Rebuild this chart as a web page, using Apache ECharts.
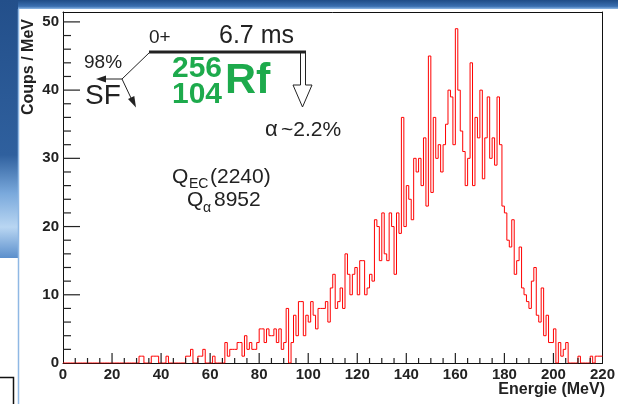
<!DOCTYPE html>
<html><head><meta charset="utf-8">
<script src="https://cdn.jsdelivr.net/npm/echarts@6/dist/echarts.min.js"></script>
<style>html,body{margin:0;padding:0;background:#fff}#c{width:618px;height:404px}</style>
</head><body><div id="c"></div>
<script>
// ---- data ----
const xMin = 0, xMax = 220, xInterval = 20, xMinorStep = 5;
const yMin = 0, yMax = 51.45, yInterval = 10, yMinorStep = 2;
const binWidth = 1; // MeV
// counts per 1 MeV bin, bins 0..219
const counts = [
  0,0,0,0,0,0,0,0,0,0,
  0,0,0,0,0,0,0,0,0,0,
  0,0,0,0,0,0,0,0,0,0,
  0,1,1,0,0,0,1,1,1,0,
  0,0,1,0,0,0,0,0,0,0,
  1,1,2,0,0,1,1,2,0,0,
  0,1,0,0,0,0,3,1,2,2,
  2,3,3,1,4,2,3,2,2,3,
  5,5,3,5,4,4,5,3,5,2,
  3,8,0,3,7,4,9,9,4,7,
  6,9,7,5,8,8,8,9,6,11,
  13,8,9,11,8,16,13,10,13,14,
  10,15,15,10,11,13,12,21,20,15,
  22,16,15,22,20,13,22,19,36,20,
  26,24,21,30,28,30,26,33,23,45,
  25,36,30,32,28,32,35,40,39,32,
  49,40,34,31,26,30,44,26,36,33,
  40,27,33,39,30,33,29,39,32,23,
  22,18,17,21,13,15,17,11,10,9,
  8,12,14,7,6,11,4,7,3,3,
  5,0,3,1,2,3,0,0,0,0,
  1,0,0,0,0,1,0,1,1,1
];
const xTitle = 'Energie (MeV)';
const yTitle = 'Coups / MeV';

// ---- build ----
const histData = counts.map((v, i) => [xMin + i * binWidth, v]);
histData.push([xMin + counts.length * binWidth, counts[counts.length - 1]]);

// tick positions (values), drawn through the axes' scales
const xTickVals = [];
for (let v = xMin + xMinorStep; v < xMax; v += xMinorStep) xTickVals.push([v, yMin]);
const yTickVals = [];
for (let v = yMin + yMinorStep; v < yMax; v += yMinorStep) yTickVals.push([xMin, v]);

const FONT = '"Liberation Sans", Arial, Helvetica, sans-serif';
const INK = '#222';
const GREEN = '#1daa4c';

function txt(x, y, text, size, opts) {
  opts = opts || {};
  return {
    type: 'text', x: x, y: y, z: 50,
    rotation: opts.rotation || 0,
    style: {
      text: text, fontSize: size, fontFamily: FONT,
      fontWeight: opts.bold ? 'bold' : 'normal',
      fill: opts.color || INK,
      align: opts.align || 'left', verticalAlign: opts.va || 'middle'
    }
  };
}
function ln(x1, y1, x2, y2, w) {
  return { type: 'line', z: 50, shape: {x1, y1, x2, y2}, style: {stroke: INK, lineWidth: w || 1} };
}

const graphics = [
  { type: 'rect', z: -5, shape: {x: 0, y: 0, width: 618, height: 9},
    style: { fill: new echarts.graphic.LinearGradient(0, 0, 0, 1, [
      {offset: 0, color: '#1f4c86'}, {offset: 0.7, color: '#3a6fb0'}, {offset: 1, color: '#8fb9e6'}]) } },
  { type: 'rect', z: -5, shape: {x: 0, y: 0, width: 18, height: 258},
    style: { fill: new echarts.graphic.LinearGradient(0, 0, 0, 1, [
      {offset: 0, color: '#234f8a'}, {offset: 0.6, color: '#2f609e'},
      {offset: 0.75, color: '#7aa9dc'}, {offset: 0.88, color: '#b9d6f2'}, {offset: 1, color: '#5b8fcc'}]) } },
  { type: 'line', z: -4, shape: {x1: 18.5, y1: 9, x2: 18.5, y2: 404}, style: {stroke: '#8fb8e4', lineWidth: 1.5} },
  { type: 'polyline', z: -4, shape: {points: [[0, 377.5], [13.5, 377.5], [13.5, 404]]}, style: {stroke: '#111', lineWidth: 1.5, fill: null} },

  txt(605, 390, xTitle, 16, {bold: true, align: 'right'}),
  txt(29, 67, yTitle, 16, {bold: true, align: 'center', rotation: Math.PI / 2}),

  ln(149, 52, 306, 52, 3.2),
  txt(149, 38, '0+', 19),
  txt(219, 36, '6.7 ms', 25),
  ln(150, 52, 122, 79, 1),
  ln(122, 79, 104, 79, 1),
  { type: 'polygon', z: 50, shape: {points: [[96, 79], [106, 75.5], [106, 82.5]]}, style: {fill: INK} },
  ln(122, 79, 131, 98, 1),
  { type: 'polygon', z: 50, shape: {points: [[136, 107.5], [128.0, 99.1], [134.3, 96.1]]}, style: {fill: INK} },
  txt(84, 63, '98%', 19),
  txt(85, 96, 'SF', 28),
  txt(172, 69, '256', 30, {bold: true, color: GREEN}),
  txt(172, 95, '104', 30, {bold: true, color: GREEN}),
  txt(225, 81, 'Rf', 43, {bold: true, color: GREEN}),
  { type: 'polyline', z: 50, shape: {points: [[300.5, 53], [300.5, 85], [293, 85], [302.5, 107], [312, 85], [305.5, 85], [305.5, 53]]},
    style: {stroke: INK, lineWidth: 1, fill: null} },
  txt(265, 130, 'α', 22),
  txt(281, 130, '~2.2%', 21),
  txt(172, 177, 'Q', 21),
  txt(189, 184, 'EC', 14),
  txt(210, 177, '(2240)', 21),
  txt(187, 200, 'Q', 21),
  txt(203, 208, 'α', 14),
  txt(214, 200, '8952', 21)
];

const labelStyle = {show: true, color: INK, fontWeight: 'bold', fontSize: 15, fontFamily: FONT, margin: 4};

function tickSeries(data, horizontal, majorStep, majorLen, minorLen) {
  return {
    type: 'custom', xAxisIndex: 0, yAxisIndex: 0, data: data, silent: true, clip: false, z: 4,
    encode: {x: 0, y: 1},
    renderItem: function (params, api) {
      const v = horizontal ? api.value(1) : api.value(0);
      const p = api.coord([api.value(0), api.value(1)]);
      const isMajor = Math.abs(v / majorStep - Math.round(v / majorStep)) < 1e-9;
      const len = isMajor ? majorLen : minorLen;
      const shape = horizontal
        ? {x1: p[0], y1: p[1], x2: p[0] + len, y2: p[1]}
        : {x1: p[0], y1: p[1], x2: p[0], y2: p[1] - len};
      return {type: 'line', shape: shape, style: {stroke: '#222', lineWidth: 1.2}};
    }
  };
}

const chart = echarts.init(document.getElementById('c'), null, {renderer: 'canvas'});
chart.setOption({
  animation: false,
  backgroundColor: '#fff',
  tooltip: {show: false},
  grid: { left: 63, right: 9, top: 12, bottom: 41, show: false },
  xAxis: [{
    type: 'value', position: 'bottom', min: xMin, max: xMax, interval: xInterval,
    axisLine: {show: true, onZero: false, lineStyle: {color: '#111', width: 1}},
    axisTick: {show: false}, minorTick: {show: false},
    axisLabel: labelStyle,
    splitLine: {show: false}
  }, {
    type: 'value', position: 'top', min: xMin, max: xMax,
    axisLine: {show: true, onZero: false, lineStyle: {color: '#111', width: 1}},
    axisTick: {show: false}, axisLabel: {show: false}, splitLine: {show: false}
  }],
  yAxis: [{
    type: 'value', position: 'left', min: yMin, max: yMax, interval: yInterval,
    axisLine: {show: true, onZero: false, lineStyle: {color: '#111', width: 1}},
    axisTick: {show: false}, minorTick: {show: false},
    axisLabel: Object.assign({}, labelStyle, {formatter: v => (Math.abs(v % yInterval) < 1e-9 ? String(v) : '')}),
    splitLine: {show: false}
  }, {
    type: 'value', position: 'right', min: yMin, max: yMax,
    axisLine: {show: true, onZero: false, lineStyle: {color: '#111', width: 1}},
    axisTick: {show: false}, axisLabel: {show: false}, splitLine: {show: false}
  }],
  series: [{
    type: 'line', xAxisIndex: 0, yAxisIndex: 0, data: histData, step: 'end', showSymbol: false, symbol: 'none',
    lineStyle: {color: '#ff0000', width: 1}, itemStyle: {color: '#ff0000'},
    z: 3
  },
  tickSeries(xTickVals, false, xInterval, 10, 5),
  tickSeries(yTickVals, true, yInterval, 17, 8)
  ],
  graphic: graphics
});
</script>
</body></html>
